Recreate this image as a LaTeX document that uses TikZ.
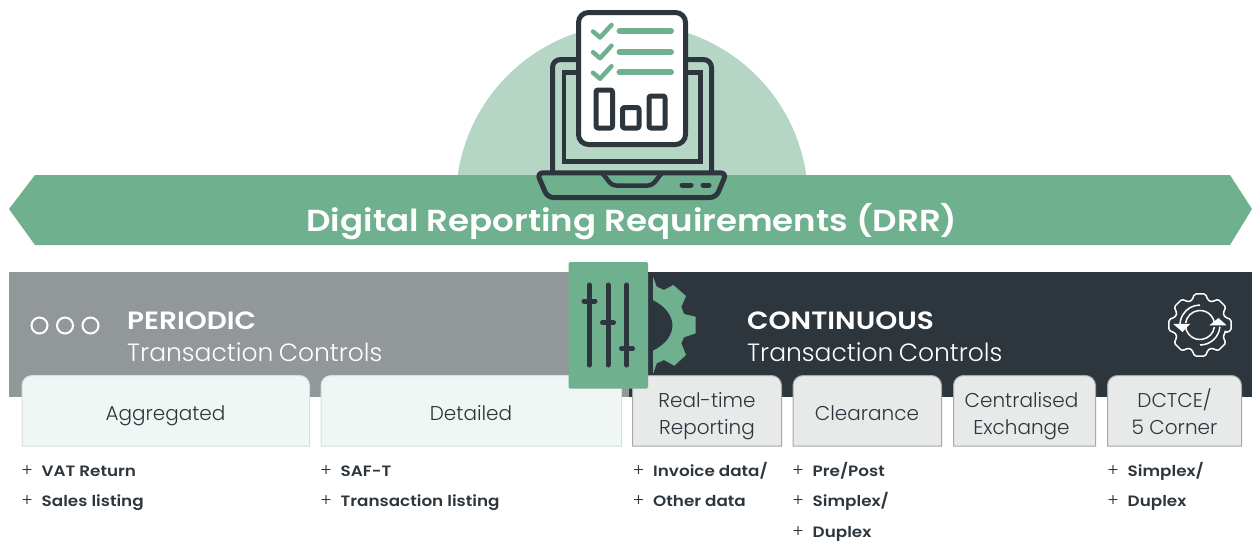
\documentclass[tikz,border=0pt]{standalone}
\usepackage{fontspec}
\setmainfont{Poppins}
\newfontfamily\fsemi[FakeStretch=1.12]{Poppins SemiBold}
\newfontfamily\flight{Poppins Light}
\newcommand{\fs}[1]{\fontsize{#1}{#1}\selectfont}
\definecolor{drrgreen}{HTML}{6FB08F}
\definecolor{drrlight}{HTML}{B5D6C5}
\definecolor{drrdark}{HTML}{2D363D}
\definecolor{drrgray}{HTML}{929799}
\definecolor{drrpale}{HTML}{EFF6F3}
\definecolor{drrpaleline}{HTML}{CFE3D9}
\definecolor{drrbox}{HTML}{E8E9E9}
\definecolor{drrboxline}{HTML}{A5A9AB}
\newcommand{\tabbox}[3]{\path[#1] (#2,446) -- (#2,385.5) arc[start angle=180,end angle=90,radius=10pt] -- (#3-10,375.5) arc[start angle=90,end angle=0,radius=10pt] -- (#3,446) -- cycle;}
\tikzset{
  icon/.style={draw=drrdark,line width=5pt,line join=round,line cap=round},
  tick/.style={draw=drrgreen,line width=4.5pt,line cap=round,line join=round},
  listline/.style={draw=drrgreen,line width=6pt,line cap=round},
  slider/.style={draw=drrdark,line width=5pt,line cap=round},
  thinwhite/.style={draw=white,line width=1.5pt},
  headbold/.style={text=white,anchor=base west,inner sep=0pt,font=\fsemi\fs{25}},
  headlight/.style={text=white,anchor=base west,inner sep=0pt,font=\flight\fs{25}},
  boxlabel/.style={text=drrdark,anchor=base,inner sep=0pt,font=\flight\fs{20}},
  twoline/.style={text=drrdark,align=center,inner sep=0pt,font=\flight\fs{20}},
  plus/.style={text=drrdark,anchor=base,inner sep=0pt,font=\flight\fs{17.5}},
  item/.style={text=drrdark,anchor=base west,inner sep=0pt,font=\fsemi\fs{15}},
  palebox/.style={fill=drrpale,draw=drrpaleline,line width=1pt},
  graybox/.style={fill=drrbox,draw=drrboxline,line width=1pt},
}
\begin{document}
\begin{tikzpicture}[x=1pt,y=-1pt]
\useasboundingbox (0,0) rectangle (1252,550);
% semicircle
\begin{scope}
\clip (400,0) rectangle (860,176);
\fill[drrlight] (632,200) circle[radius=176pt];
\end{scope}
% banner
\fill[drrgreen] (9,209) -- (35,175) -- (1230,175) -- (1252,209) -- (1230,245) -- (35,245) -- cycle;
% bands
\fill[drrgray] (9,272) rectangle (631,396.5);
\fill[drrdark] (629,272) rectangle (1252,396.5);
% laptop
\draw[icon] (552.5,172) -- (552.5,67) [rounded corners=8pt] -- (552.5,59.5) -- (711.5,59.5) -- (711.5,172);
\draw[icon,line cap=butt,line join=miter,line width=4.5pt] (564,72.5) rectangle (700.5,161.5);
\draw[icon,rounded corners=6pt] (537,172.8) -- (726.5,172.8) -- (716,197.5) -- (547.5,197.5) -- cycle;
\draw[icon,rounded corners=4pt,line width=4.5pt] (603,174) -- (612,185.5) -- (652,185.5) -- (661,174);
\draw[icon] (682,185) -- (691,185);
\draw[icon] (703,185) -- (709,185);
% paper
\draw[icon,fill=white,rounded corners=10pt] (578.5,12.5) rectangle (685.5,144.5);
\foreach \d in {0,20.7,41.2}{
  \draw[tick,yshift=-\d pt] (593,31.5) -- (600,37.5) -- (611.5,25);
  \draw[listline,yshift=-\d pt] (619.5,31) -- (671,31);
}
\draw[icon,rounded corners=2pt] (596,90) rectangle (612.5,128);
\draw[icon,rounded corners=2pt] (622.5,107.5) rectangle (639,128);
\draw[icon,rounded corners=2pt] (649,96) rectangle (665,128);
% boxes
\tabbox{palebox}{22}{309.5}
\tabbox{palebox}{321}{621.5}
\tabbox{graybox}{632.5}{781.5}
\tabbox{graybox}{793}{941.5}
\tabbox{graybox}{953.5}{1095.5}
\tabbox{graybox}{1107.5}{1241.5}
% gear
\begin{scope}
\clip (653,260) rectangle (720,390);
\fill[drrgreen] (653,276.7) -- (656.7,286.7) -- (664,290) -- (673.3,285) -- (686,296) -- (681.3,306.7) -- (684,314) -- (695.7,316.7) -- (695.7,333.3) -- (684,337.3) -- (681.3,343.3) -- (686,355) -- (674.3,365.7) -- (664,360) -- (656.7,363.3) -- (653,374) -- (653,350.7) .. controls (679,338) and (679,313) .. (653,300) -- cycle;
\end{scope}
% slider panel
\fill[drrgreen,rounded corners=1.5pt] (568.5,262) rectangle (648,388.5);
\draw[slider] (589.3,285) -- (589.3,365);
\draw[slider] (608,285) -- (608,365);
\draw[slider] (626.7,285) -- (626.7,365);
\draw[slider] (584,301) -- (595,301);
\draw[slider] (602.5,322.5) -- (613.5,322.5);
\draw[slider] (621.5,348.7) -- (632.5,348.7);
% three circles
\foreach \x in {39.5,65,90.5}{\draw[white,line width=2pt] (\x,325.5) circle[radius=8pt];}
% cycle gear
\begin{scope}[shift={(1200,325)}]
\draw[thinwhite,rounded corners=1.5pt,line join=round] (-17:26.5pt)
  \foreach \k in {0,45,...,315}{
    -- ({\k-17}:26.5pt) -- ({\k-10}:31.5pt) -- ({\k+10}:31.5pt) -- ({\k+17}:26.5pt) -- ({\k+22.5}:25.5pt)
  } -- cycle;
\draw[thinwhite] (8:14.5pt) arc[start angle=8,end angle=172,radius=14.5pt];
\draw[thinwhite] (188:14.5pt) arc[start angle=188,end angle=352,radius=14.5pt];
\draw[thinwhite] (90:20pt) arc[start angle=90,end angle=185,radius=20pt];
\draw[thinwhite] (270:20pt) arc[start angle=270,end angle=355,radius=20pt];
\draw[thinwhite,fill=white] (-25,-0.5) -- (-11.5,-0.5) -- (-17.5,6) -- cycle;
\draw[thinwhite,fill=white] (24.5,-0.5) -- (11.5,-0.5) -- (18.5,-6) -- cycle;
\end{scope}
% texts
\node[text=white,anchor=base,inner sep=0pt,font=\fsemi\fs{30.4}] (title) at (632,231) {Digital Reporting Requirements (DRR)};
\node[headbold] (per) at (127,329) {PERIODIC};
\node[headlight] (pert) at (127,361) {Transaction\hspace{-1.5pt} Controls};
\node[headbold] (con) at (747,329) {CONTINUOUS};
\node[headlight] (cont) at (747,361) {Transaction\hspace{-1.5pt} Controls};
\node[boxlabel] (agg) at (165.5,420.5) {Aggregated};
\node[boxlabel] (det) at (471,420.5) {Detailed};
\node[twoline] (rt) at (707,416) {Real-time\\[7pt]Reporting};
\node[boxlabel] (cle) at (867,420.5) {Clearance};
\node[twoline] (cen) at (1021.5,416) {Centralised\\[7pt]Exchange};
\node[twoline] (dct) at (1174.5,412) {DCTCE/\\[7pt]5 Corner};
% lists
\foreach \n/\x/\y/\t in {a/27/476.5/VAT Return,b/27/506.5/Sales listing,c/326/476.5/SAF-T,d/326/506.5/Transaction listing,e/638.5/476.5/{Invoice data/},f/638.5/506.5/Other data,g/798/476.5/{Pre/Post},h/798/506.5/{Simplex/},i/798/537.5/Duplex,j/1113/476.5/{Simplex/},k/1113/506.5/Duplex}{
  \node[plus] (p\n) at (\x,\y) {+};
  \node[item] (t\n) at (\x+14.5,\y) {\t};
}
\end{tikzpicture}
\end{document}
